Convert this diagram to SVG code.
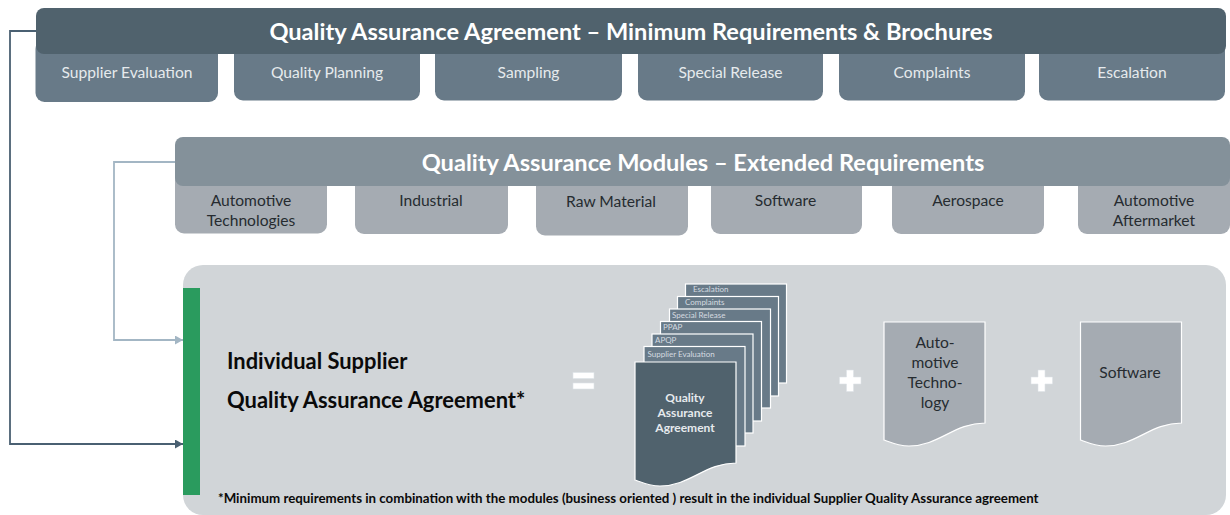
<svg xmlns="http://www.w3.org/2000/svg" width="1230" height="515" viewBox="0 0 1230 515">
<style>
text{font-family:Lato,"Liberation Sans",sans-serif;text-anchor:middle}
.sub1{fill:#687a88}
.bar1{fill:#50626d}
.sub2{fill:#a5abb2}
.bar2{fill:#84919a}
.t1{font-size:15.600px;fill:#e6eaed}
.t2{font-size:15.600px;fill:#262b30}
.h{font-size:23.600px;font-weight:700;fill:#fff}
.big{font-size:21.900px;font-weight:700;fill:#0a0a0a;text-anchor:start}
.tab{font-size:8px;fill:#d5dbe0;text-anchor:start}
.qa{font-size:12px;font-weight:700;fill:#e6eaed}
.pg{fill:#687a88;stroke:#fff;stroke-width:1.2}
.doc{stroke:#fff;stroke-width:1.2}
.sym{fill:#fff;stroke:#dde3e8;stroke-width:.6}
</style>
<defs>
<marker id="ad" markerUnits="userSpaceOnUse" markerWidth="9" markerHeight="10" refX="8" refY="4.500" orient="auto"><path d="M0 0L8 4.500L0 9Z" fill="#4a6072"/></marker>
<marker id="al" markerUnits="userSpaceOnUse" markerWidth="9" markerHeight="10" refX="8" refY="4.500" orient="auto"><path d="M0 0L8 4.500L0 9Z" fill="#a3b6c4"/></marker>
<path id="wave" d="M0 0H101V101C70 101 55 124 25 124C15 124 8 121 0 118Z"/>
</defs>
<g id="connectors" fill="none" stroke-width="1.800">
<path d="M36 31H10V444H183" stroke="#4a6072" marker-end="url(#ad)"/>
<path d="M175 162H114V340H183" stroke="#a3b6c4" marker-end="url(#al)"/>
</g>
<g id="qaa-subs">
<g id="sub-supplier-evaluation"><rect class="sub1" x="35.500" y="40" width="182.500" height="62" rx="9"/><text class="t1" x="127" y="78">Supplier Evaluation</text></g>
<g id="sub-quality-planning"><rect class="sub1" x="234" y="40" width="186" height="60.500" rx="9"/><text class="t1" x="327" y="78">Quality Planning</text></g>
<g id="sub-sampling"><rect class="sub1" x="435" y="40" width="187" height="60.500" rx="9"/><text class="t1" x="528.500" y="78">Sampling</text></g>
<g id="sub-special-release"><rect class="sub1" x="638" y="40" width="185" height="60.500" rx="9"/><text class="t1" x="730.500" y="78">Special Release</text></g>
<g id="sub-complaints"><rect class="sub1" x="839" y="40" width="186" height="60.500" rx="9"/><text class="t1" x="932" y="78">Complaints</text></g>
<g id="sub-escalation"><rect class="sub1" x="1039" y="40" width="186" height="60.500" rx="9"/><text class="t1" x="1132" y="78">Escalation</text></g>
</g>
<g id="qaa-bar"><rect class="bar1" x="36" y="8" width="1190" height="46" rx="8"/><text class="h" x="631" y="40">Quality Assurance Agreement – Minimum Requirements &amp; Brochures</text></g>
<g id="mod-subs">
<g id="mod-automotive-technologies"><rect class="sub2" x="175" y="170" width="152" height="63.500" rx="9"/><text class="t2" x="251" y="206">Automotive</text><text class="t2" x="251" y="226">Technologies</text></g>
<g id="mod-industrial"><rect class="sub2" x="355" y="170" width="153" height="64" rx="9"/><text class="t2" x="431" y="206">Industrial</text></g>
<g id="mod-raw-material"><rect class="sub2" x="536" y="170" width="152" height="65.500" rx="9"/><text class="t2" x="611" y="207">Raw Material</text></g>
<g id="mod-software"><rect class="sub2" x="711" y="170" width="151" height="64" rx="9"/><text class="t2" x="785.500" y="206">Software</text></g>
<g id="mod-aerospace"><rect class="sub2" x="892" y="170" width="152" height="64" rx="9"/><text class="t2" x="968" y="206">Aerospace</text></g>
<g id="mod-automotive-aftermarket"><rect class="sub2" x="1078" y="170" width="152" height="64" rx="9"/><text class="t2" x="1154" y="206">Automotive</text><text class="t2" x="1154" y="226">Aftermarket</text></g>
</g>
<g id="mod-bar"><rect class="bar2" x="175" y="137" width="1055" height="49" rx="8"/><text class="h" x="703" y="171">Quality Assurance Modules – Extended Requirements</text></g>
<g id="individual-agreement">
<rect x="183" y="265" width="1043" height="250" rx="20" fill="#d1d5d8"/>
<rect x="183" y="288" width="17" height="207" fill="#2a9b5e"/>
<text class="big" x="227" y="369">Individual Supplier</text>
<text class="big" x="227" y="408">Quality Assurance Agreement*</text>
<g id="equals" class="sym"><rect x="573" y="372.500" width="21" height="6"/><rect x="573" y="383" width="21" height="6"/></g>
</g>
<g id="doc-stack">
<g id="page-escalation"><rect class="pg" x="685.500" y="284" width="101" height="99"/><text class="tab" x="693" y="292">Escalation</text></g>
<g id="page-complaints"><rect class="pg" x="677.500" y="296.500" width="101" height="99.500"/><text class="tab" x="685" y="305">Complaints</text></g>
<g id="page-special-release"><rect class="pg" x="669.500" y="309" width="101" height="99"/><text class="tab" x="672" y="318">Special Release</text></g>
<g id="page-ppap"><rect class="pg" x="660.500" y="321.500" width="101" height="99.500"/><text class="tab" x="663" y="330">PPAP</text></g>
<g id="page-apqp"><rect class="pg" x="652" y="334" width="101" height="99"/><text class="tab" x="655" y="343">APQP</text></g>
<g id="page-supplier-evaluation"><rect class="pg" x="644" y="346.500" width="101" height="99.500"/><text class="tab" x="647.500" y="357">Supplier Evaluation</text></g>
<g id="page-main"><use href="#wave" class="doc" x="635" y="362" fill="#50626d"/>
<text class="qa" x="685" y="402">Quality</text>
<text class="qa" x="685" y="417">Assurance</text>
<text class="qa" x="685" y="432">Agreement</text></g>
</g>
<path id="plus-1" class="sym" d="M846.500 370H853.500V377H861V384H853.500V391.500H846.500V384H839.500V377H846.500Z"/>
<g id="doc-automotive-technology"><use href="#wave" class="doc" x="884" y="322" fill="#a5abb2"/>
<text class="t2" x="935" y="348">Auto-</text><text class="t2" x="935" y="368">motive</text><text class="t2" x="935" y="388">Techno-</text><text class="t2" x="935" y="408">logy</text></g>
<path id="plus-2" class="sym" d="M1038 370H1045V377H1052.500V384H1045V391.500H1038V384H1031V377H1038Z"/>
<g id="doc-software"><use href="#wave" class="doc" x="1080.500" y="322" fill="#a5abb2"/><text class="t2" x="1130" y="378">Software</text></g>
<text id="footnote" x="218" y="503" font-size="13.300" font-weight="700" fill="#0a0a0a" style="text-anchor:start">*Minimum requirements in combination with the modules (business oriented ) result in the individual Supplier Quality Assurance agreement</text>
</svg>
